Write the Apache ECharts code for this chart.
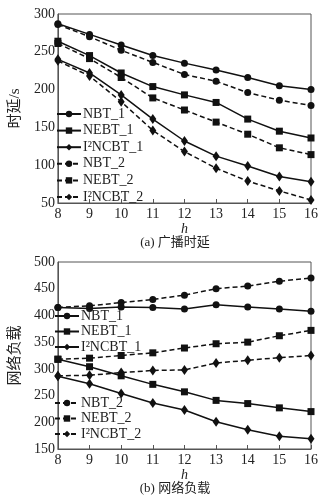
<!DOCTYPE html>
<html>
<head>
<meta charset="utf-8">
<script src="https://cdn.jsdelivr.net/npm/echarts@6/dist/echarts.min.js"></script>
<style>
  html, body { margin: 0; padding: 0; background: #fff; }
  #chart { width: 332px; height: 498px; }
</style>
</head>
<body>
<div id="chart"></div>
<script>
const hValues = ["8", "9", "10", "11", "12", "13", "14", "15", "16"];
const seriesNames = ["NBT_1", "NEBT_1", "I²NCBT_1", "NBT_2", "NEBT_2", "I²NCBT_2"];

// (a) 广播时延
const delayNBT1 = [287, 273, 259, 245, 235, 226, 216, 205, 200];
const delayNEBT1 = [264, 245, 222, 204, 193, 183, 161, 145, 136];
const delayI2NCBT1 = [240, 222, 193, 161, 132, 112, 99, 85, 78];
const delayNBT2 = [286, 270, 252, 236, 220, 211, 196, 186, 179];
const delayNEBT2 = [261, 241, 216, 189, 173, 157, 141, 123, 114];
const delayI2NCBT2 = [238, 218, 184, 146, 118, 96, 79, 66, 54];

// (b) 网络负载
const loadNBT1 = [415, 413, 416, 415, 412, 420, 416, 412, 408];
const loadNEBT1 = [318, 304, 287, 271, 257, 241, 235, 227, 220];
const loadI2NCBT1 = [286, 272, 254, 236, 223, 201, 186, 174, 169];
const loadNBT2 = [415, 418, 424, 430, 438, 450, 455, 464, 470];
const loadNEBT2 = [318, 320, 325, 330, 339, 347, 350, 362, 372];
const loadI2NCBT2 = [287, 288, 293, 297, 298, 311, 316, 321, 325];

const serifFont = '"Liberation Serif", "DejaVu Serif", "Noto Sans CJK SC", serif';
const symbols = ["circle", "rect", "diamond"];
const symbolSizes = [7, 7, [7, 10]];

function makeSeries(name, data, idx, gridIdx) {
  const k = idx % 3;
  const dashed = idx >= 3;
  return {
    name: name,
    type: "line",
    xAxisIndex: gridIdx,
    yAxisIndex: gridIdx,
    data: data,
    symbol: symbols[k],
    symbolSize: symbolSizes[k],
    itemStyle: { color: "#111" },
    lineStyle: { color: "#111", width: 1.5, type: dashed ? [5, 3] : "solid" },
    animation: false
  };
}

function makeXAxis(gridIdx) {
  return {
    type: "category",
    gridIndex: gridIdx,
    data: hValues,
    boundaryGap: false,
    name: "h",
    nameLocation: "middle",
    nameGap: 19,
    nameTextStyle: { fontFamily: serifFont, fontStyle: "italic", fontSize: 14, color: "#222" },
    axisLine: { lineStyle: { color: "#555", width: 1 } },
    axisTick: { inside: true, length: 4, lineStyle: { color: "#555" } },
    axisLabel: { fontFamily: serifFont, fontSize: 14, color: "#222", margin: 4 },
    splitLine: { show: false }
  };
}

function makeYAxis(gridIdx, min, max, name) {
  return {
    type: "value",
    gridIndex: gridIdx,
    min: min,
    max: max,
    interval: 50,
    name: name,
    nameLocation: "middle",
    nameGap: 31,
    nameTextStyle: { fontFamily: serifFont, fontSize: 15, color: "#222" },
    axisLine: { show: true, lineStyle: { color: "#555", width: 1 } },
    axisTick: { show: false },
    axisLabel: { fontFamily: serifFont, fontSize: 14, color: "#222", margin: 3 },
    splitLine: { show: false }
  };
}

function makeLegend(names, left, top, gap) {
  return {
    orient: "vertical",
    left: left,
    top: top,
    data: names,
    itemWidth: 24,
    itemHeight: 8,
    itemGap: gap,
    selectedMode: false,
    textStyle: { fontFamily: serifFont, fontSize: 14, lineHeight: 13, color: "#222", padding: [0, 0, 0, -3] },
    padding: 0
  };
}

const chart = echarts.init(document.getElementById("chart"));

const delayData = [delayNBT1, delayNEBT1, delayI2NCBT1, delayNBT2, delayNEBT2, delayI2NCBT2];
const loadData = [loadNBT1, loadNEBT1, loadI2NCBT1, loadNBT2, loadNEBT2, loadI2NCBT2];

const series = [];
seriesNames.forEach((n, i) => series.push(makeSeries(n, delayData[i], i, 0)));
seriesNames.forEach((n, i) => series.push(makeSeries(n, loadData[i], i, 1)));

chart.setOption({
  backgroundColor: "#fff",
  animation: false,
  grid: [
    { left: 50, top: 14, width: 261, height: 189, show: true, borderColor: "#555", borderWidth: 1 },
    { left: 50, top: 262, width: 261, height: 187, show: true, borderColor: "#555", borderWidth: 1 }
  ],
  xAxis: [makeXAxis(0), makeXAxis(1)],
  yAxis: [makeYAxis(0, 50, 300, "时延/s"), makeYAxis(1, 150, 500, "网络负载")],
  legend: [
    makeLegend(seriesNames, 56, 107, 2.6),
    makeLegend(seriesNames.slice(0, 3), 54, 309, 1.5),
    makeLegend(seriesNames.slice(3), 54, 396, 1.5)
  ],
  title: [
    { text: "(a) 广播时延", left: 170, top: 231, textAlign: "center",
      textStyle: { fontFamily: serifFont, fontSize: 13, fontWeight: "normal", color: "#222" } },
    { text: "(b) 网络负载", left: 170, top: 477, textAlign: "center",
      textStyle: { fontFamily: serifFont, fontSize: 13, fontWeight: "normal", color: "#222" } }
  ],
  series: series
});
</script>
</body>
</html>
